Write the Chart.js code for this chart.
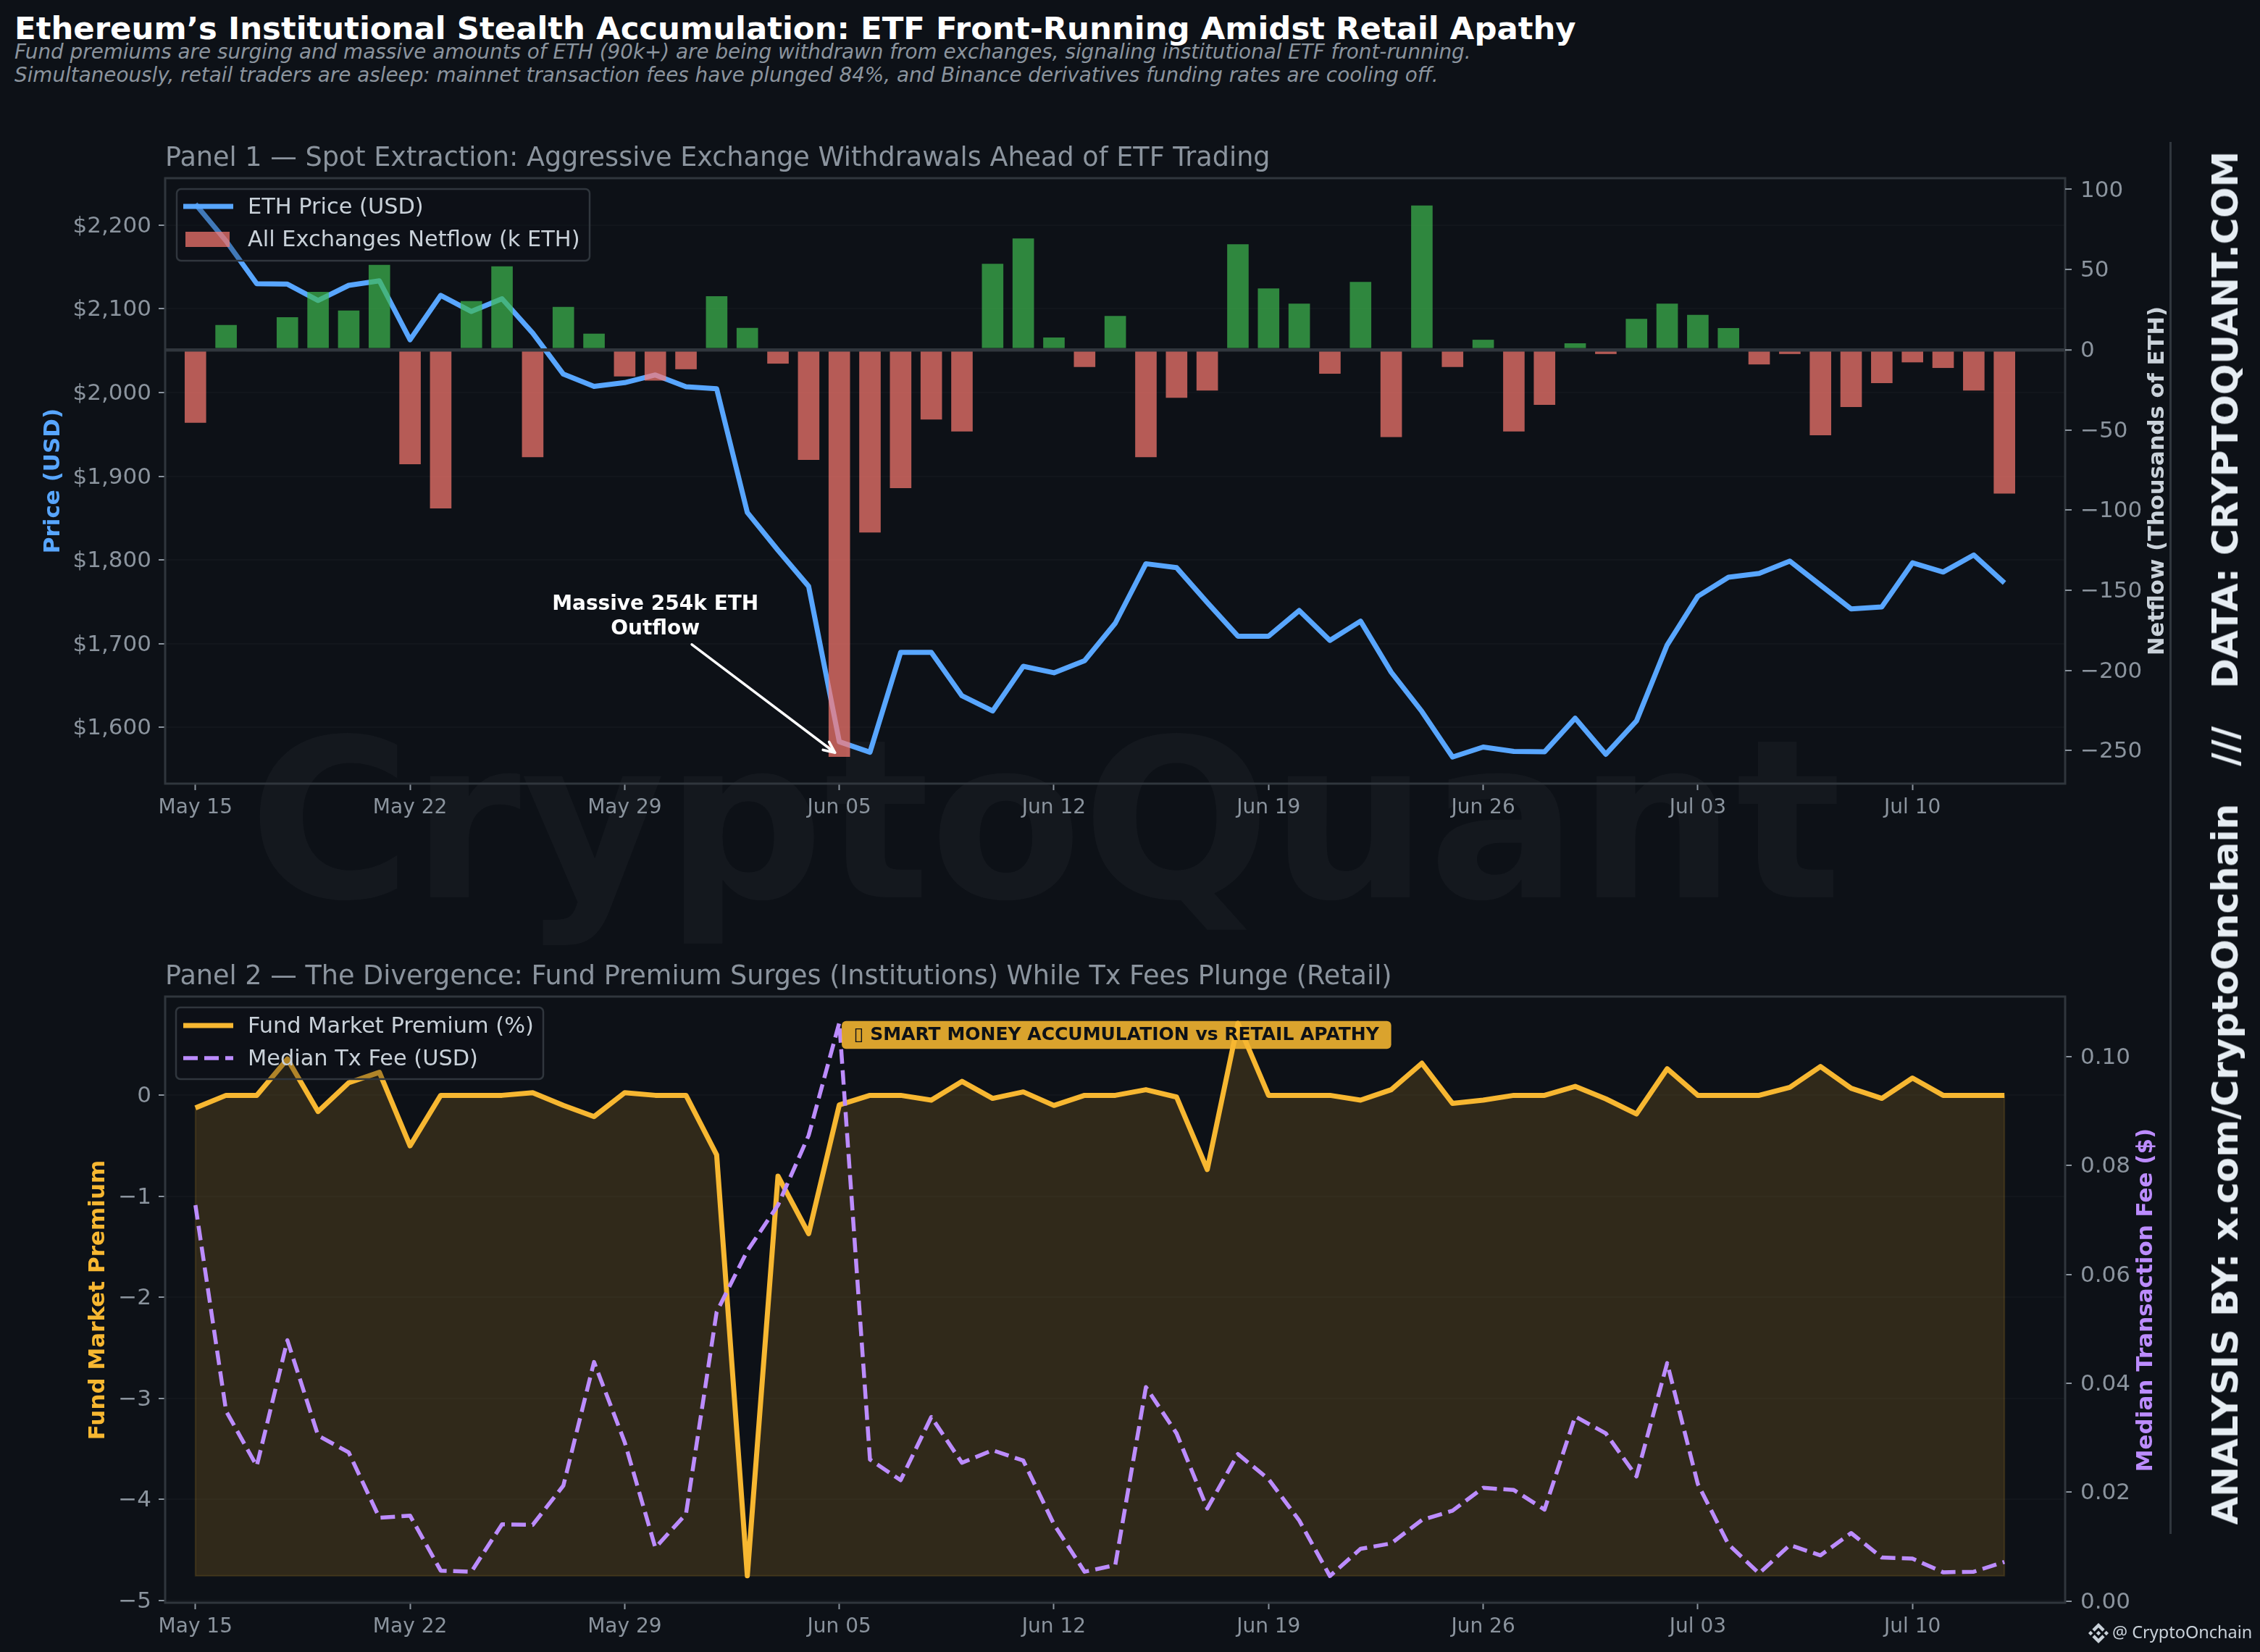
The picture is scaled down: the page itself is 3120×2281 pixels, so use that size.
<!DOCTYPE html>
<html><head><meta charset="utf-8">
<script src="https://cdn.jsdelivr.net/npm/chart.js@4"></script>
<style>
html,body{margin:0;padding:0;background:#0d1117;}
#page{position:relative;width:3120px;height:2281px;overflow:hidden;background:#0d1117;font-family:'DejaVu Sans';}
canvas{position:absolute;left:0;}
.t{position:absolute;white-space:pre;line-height:1;}
</style></head><body>
<div id="page">
<div class="t" id="wm" style="left:1443px;top:1133px;transform:translate(-50%,-50%);font-weight:700;font-size:306px;color:rgba(255,255,255,0.032);">CryptoQuant</div>
<div class="t" style="left:20px;top:18px;font-weight:700;font-size:43.4px;color:#ffffff;">Ethereum’s Institutional Stealth Accumulation: ETF Front-Running Amidst Retail Apathy</div>
<div class="t" style="left:20px;top:58px;font-style:italic;font-size:27.8px;color:#8b949e;">Fund premiums are surging and massive amounts of ETH (90k+) are being withdrawn from exchanges, signaling institutional ETF front-running.</div>
<div class="t" style="left:20px;top:90px;font-style:italic;font-size:27.8px;color:#8b949e;">Simultaneously, retail traders are asleep: mainnet transaction fees have plunged 84%, and Binance derivatives funding rates are cooling off.</div>
<canvas id="c1" width="3120" height="1160" style="top:0;width:3120px;height:1160px"></canvas>
<canvas id="c2" width="3120" height="981" style="top:1300px;width:3120px;height:981px"></canvas>
<div style="position:absolute;left:2995px;top:196px;width:3px;height:1922px;background:#30363d;"></div>
<div class="t" style="left:3072px;top:1157px;transform:translate(-50%,-50%) rotate(-90deg);font-weight:700;font-size:50px;color:#e6edf3;">ANALYSIS BY: x.com/CryptoOnchain   ///   DATA: CRYPTOQUANT.COM</div>
<svg style="position:absolute;left:2883px;top:2241px;width:28px;height:28px" viewBox="0 0 126.61 126.61" fill="#c9d1d9"><path d="M38.73 53.2l24.59-24.58 24.6 24.6 14.3-14.31L63.32 0 24.43 38.9l14.3 14.3z"/><path d="M0 63.31l14.3-14.31 14.31 14.31-14.31 14.3z"/><path d="M38.73 73.41l24.59 24.59 24.6-24.6 14.31 14.29-38.9 38.91-38.91-38.88-.02-.02 14.33-14.29z"/><path d="M98 63.31l14.3-14.3 14.31 14.3-14.31 14.3z"/><path d="M77.83 63.3L63.32 48.78 52.59 59.51l-1.24 1.23-2.54 2.54 14.51 14.5 14.51-14.47z"/></svg>
<div class="t" style="left:2916px;top:2242px;font-family:'Noto Sans';font-size:23.5px;color:#c9d1d9;">@ CryptoOnchain</div>
</div>
<script>
const dates=['May 15','May 16','May 17','May 18','May 19','May 20','May 21','May 22','May 23','May 24','May 25','May 26','May 27','May 28','May 29','May 30','May 31','Jun 01','Jun 02','Jun 03','Jun 04','Jun 05','Jun 06','Jun 07','Jun 08','Jun 09','Jun 10','Jun 11','Jun 12','Jun 13','Jun 14','Jun 15','Jun 16','Jun 17','Jun 18','Jun 19','Jun 20','Jun 21','Jun 22','Jun 23','Jun 24','Jun 25','Jun 26','Jun 27','Jun 28','Jun 29','Jun 30','Jul 01','Jul 02','Jul 03','Jul 04','Jul 05','Jul 06','Jul 07','Jul 08','Jul 09','Jul 10','Jul 11','Jul 12','Jul 13'];
const xTickIdx=[0,7,14,21,28,35,42,49,56];
const ethPrice=[2225,2181,2130,2129.4,2110,2128,2133.4,2063,2116,2096.8,2112,2071,2022,2007.4,2011.8,2021,2006.8,2004.5,1856.7,1811.6,1768.5,1583,1570.4,1689.7,1689.7,1637.8,1619.7,1673,1665.3,1679.8,1724.5,1795.5,1790.8,1749.3,1709,1709,1739.6,1704,1727,1666,1619,1564.7,1576.6,1571.4,1570.9,1611,1568,1607.8,1698.5,1756.6,1779.4,1784,1798.6,1770,1741.5,1744,1796.6,1785.6,1806,1772.6];
const netflow=[-45.6,15.4,-1,20.3,36.1,24.4,52.9,-71.5,-99,30.3,52,-67,26.7,10,-16.7,-19.3,-12.2,33.4,13.6,-8.7,-68.8,-254,-114,-86.4,-43.6,-51,53.6,69.4,7.6,-10.8,21.1,-67,-30,-25.5,65.8,38.2,28.7,-15,42.3,-54.5,90,-10.8,6.2,-51,-34.4,4,-2.7,19.2,28.7,21.7,13.5,-9.2,-2.7,-53.4,-35.8,-20.9,-7.9,-11.4,-25.5,-89.7];
const fundPremium=[-0.125,0,0,0.36,-0.16,0.125,0.228,-0.5,0,0,0,0.026,-0.1,-0.21,0.026,0,0,-0.59,-4.757,-0.8,-1.37,-0.095,0,0,-0.047,0.138,-0.03,0.034,-0.1,0,0,0.056,-0.017,-0.735,0.713,0,0,0,-0.047,0.056,0.318,-0.08,-0.048,0,0,0.088,-0.035,-0.184,0.263,0,0,0,0.079,0.285,0.07,-0.03,0.171,0,0,0];
const medianFee=[0.0727,0.0349,0.0248,0.0479,0.0304,0.0273,0.0153,0.0157,0.0056,0.0054,0.0141,0.014,0.0212,0.0439,0.0292,0.0098,0.016,0.0531,0.0643,0.0727,0.0855,0.1062,0.026,0.0222,0.0338,0.0254,0.0277,0.0258,0.0141,0.0054,0.0066,0.0393,0.0308,0.017,0.027,0.0224,0.0148,0.0046,0.0096,0.0106,0.0149,0.0166,0.0208,0.0204,0.0168,0.0339,0.0308,0.0229,0.0437,0.0215,0.0104,0.0051,0.0103,0.0084,0.0125,0.008,0.0078,0.0053,0.0054,0.0072];
const priceTicks=[1600,1700,1800,1900,2000,2100,2200];
const flowTicks=[-250,-200,-150,-100,-50,0,50,100];
const fundTicks=[-5,-4,-3,-2,-1,0];
const feeTicks=[0,0.02,0.04,0.06,0.08,0.1];

const FONT="'DejaVu Sans'";
const SPINE='#30363d', TICK='#8b949e', BLUE='#58a6ff', AMBER='#f7b731', PURPLE='#bc8cff';
const GREEN_BAR='rgba(63,185,80,0.7)', RED_BAR='rgba(255,123,114,0.7)';
const GRID='rgba(48,54,61,0.15)';
const XY=a=>a.map((v,i)=>({x:i,y:v}));
const minus=s=>String(s).replace('-','\u2212');
const usd=v=>'$'+Number(v).toLocaleString('en-US');

function xScale(){return{type:'linear',min:-0.987,max:60.98,offset:false,
  afterFit(s){s.height=s.chart.canvas.id==='c1'?78:68;},
  afterBuildTicks(s){s.ticks=xTickIdx.map(v=>({value:v}));},
  border:{display:false},
  grid:{offset:false,drawOnChartArea:false,tickLength:9,tickWidth:2,tickColor:TICK,color:'transparent'},
  ticks:{autoSkip:false,maxRotation:0,padding:8,color:TICK,font:{family:FONT,size:28},callback:v=>dates[v]}};}
function yScale(side,min,max,ticks,fmt,grid){return{type:'linear',position:side,min,max,
  afterFit(s){s.width=side==='left'?228:269;},
  afterBuildTicks(s){s.ticks=ticks.map(v=>({value:v}));},
  border:{display:false},grid,
  ticks:{autoSkip:false,padding:side==='left'?10:12,labelOffset:2,color:TICK,font:{family:FONT,size:31},callback:fmt}};}
const leftGrid=()=>({color:GRID,lineWidth:2,tickLength:9,tickWidth:2,tickColor:TICK});

function vText(ctx,text,x,y,font,color){ctx.save();ctx.translate(x,y);ctx.rotate(-Math.PI/2);ctx.font=font;ctx.fillStyle=color;ctx.textAlign='center';ctx.textBaseline='middle';ctx.fillText(text,0,0);ctx.restore();}
function spines(chart){const a=chart.chartArea,c=chart.ctx;c.save();c.strokeStyle=SPINE;c.lineWidth=3;c.strokeRect(a.left,a.top,a.right-a.left,a.bottom-a.top);c.restore();}
function legendBox(c,box,items){
  c.save();c.beginPath();c.roundRect(box.l,box.t,box.r-box.l,box.b-box.t,6);
  c.fillStyle='rgba(13,17,23,0.3)';c.fill();c.strokeStyle=SPINE;c.lineWidth=2.5;c.stroke();
  c.font='30.4px '+FONT;c.textBaseline='middle';c.textAlign='left';
  for(const it of items){
    if(it.kind==='bar'){c.fillStyle=it.color;c.fillRect(256,it.y-10,61,21);}
    else{c.strokeStyle=it.color;c.lineWidth=it.w;c.setLineDash(it.dash||[]);c.beginPath();c.moveTo(253,it.y);c.lineTo(322,it.y);c.stroke();c.setLineDash([]);}
    c.fillStyle='#c9d1d9';c.fillText(it.text,342,it.y+2);
  }
  c.restore();
}

const panel1={id:'panel1',afterDatasetsDraw(chart){
  const c=chart.ctx,x=chart.scales.x,f=chart.scales.y1;
  spines(chart);
  legendBox(c,{l:244,t:261,r:814,b:360},[{kind:'line',color:BLUE,w:7,y:285,text:'ETH Price (USD)'},{kind:'bar',color:RED_BAR,y:330,text:'All Exchanges Netflow (k ETH)'}]);
  c.save();
  c.font='700 28px '+FONT;c.fillStyle='#ffffff';c.textAlign='center';c.textBaseline='middle';
  c.fillText('Massive 254k ETH',x.getPixelForValue(15),f.getPixelForValue(-159.2));
  c.fillText('Outflow',x.getPixelForValue(15),f.getPixelForValue(-174.4));
  const tx=x.getPixelForValue(16.19),ty=f.getPixelForValue(-183.9),hx=x.getPixelForValue(20.86),hy=f.getPixelForValue(-251.4);
  const an=Math.atan2(hy-ty,hx-tx);
  c.strokeStyle='#ffffff';c.lineWidth=3.6;c.lineCap='round';c.lineJoin='round';
  c.beginPath();c.moveTo(tx,ty);c.lineTo(hx,hy);
  c.moveTo(hx-17*Math.cos(an-0.42),hy-17*Math.sin(an-0.42));c.lineTo(hx,hy);c.lineTo(hx-17*Math.cos(an+0.42),hy-17*Math.sin(an+0.42));c.stroke();
  c.restore();
  vText(c,'Price (USD)',74,664,'700 31px '+FONT,BLUE);
  vText(c,'Netflow (Thousands of ETH)',2979,664,'700 30.7px '+FONT,'#c9d1d9');
}};

const panel2={id:'panel2',beforeDatasetsDraw(chart){
  const c=chart.ctx,x=chart.scales.x,y=chart.scales.y;
  const l=x.getPixelForValue(0),r=x.getPixelForValue(59),b=y.getPixelForValue(Math.min(...fundPremium));
  c.save();c.strokeStyle='rgba(247,183,49,0.15)';c.lineWidth=2;c.beginPath();
  c.moveTo(l,y.getPixelForValue(fundPremium[0]));c.lineTo(l,b);c.lineTo(r,b);c.lineTo(r,y.getPixelForValue(fundPremium[59]));c.stroke();c.restore();
},afterDatasetsDraw(chart){
  const c=chart.ctx,x=chart.scales.x,fee=chart.scales.y1;
  spines(chart);
  legendBox(c,{l:243,t:91,r:750,b:190},[{kind:'line',color:AMBER,w:7,y:116,text:'Fund Market Premium (%)'},{kind:'line',color:PURPLE,w:5.5,dash:[20,9],y:161,text:'Median Tx Fee (USD)'}]);
  const L=x.getPixelForValue(21.08),R=x.getPixelForValue(39),T=fee.getPixelForValue(0.1065),B=fee.getPixelForValue(0.1014);
  c.save();c.beginPath();c.roundRect(L,T,R-L,B-T,6);c.fillStyle='rgba(247,183,49,0.88)';c.fill();
  c.font='700 25px '+FONT;c.fillStyle='#0d1117';c.textAlign='center';c.textBaseline='middle';
  c.fillText('\u25AF SMART MONEY ACCUMULATION vs RETAIL APATHY',(L+R)/2,(T+B)/2);c.restore();
  vText(c,'Fund Market Premium',136,495,'700 31px '+FONT,AMBER);
  vText(c,'Median Transaction Fee ($)',2963,495,'700 31px '+FONT,PURPLE);
}};

new Chart(document.getElementById('c1'),{type:'bar',
  data:{datasets:[
    {type:'line',label:'ETH Price (USD)',data:XY(ethPrice),yAxisID:'y',borderColor:BLUE,borderWidth:7,pointRadius:0,tension:0,order:2,borderJoinStyle:'round',borderCapStyle:'butt'},
    {type:'bar',label:'All Exchanges Netflow (k ETH)',data:XY(netflow),yAxisID:'y1',backgroundColor:netflow.map(v=>v>=0?GREEN_BAR:RED_BAR),barPercentage:0.7,categoryPercentage:1,order:1}
  ]},
  options:{responsive:false,animation:false,devicePixelRatio:1,
    layout:{padding:{left:0,right:0,top:197.08,bottom:0}},
    plugins:{legend:{display:false},tooltip:{enabled:false},
      title:{display:true,text:'Panel 1 — Spot Extraction: Aggressive Exchange Withdrawals Ahead of ETF Trading',align:'start',fullSize:false,color:TICK,font:{family:FONT,size:36.6,weight:'normal',lineHeight:1.2},padding:{top:0,bottom:5}}},
    scales:{x:xScale(),
      y:yScale('left',1532.9,2256,priceTicks,usd,leftGrid()),
      y1:yScale('right',-270.7,107,flowTicks,minus,{z:1,color:c=>c.tick&&c.tick.value===0?SPINE:'transparent',lineWidth:c=>c.tick&&c.tick.value===0?4.5:0,tickLength:9,tickWidth:2,tickColor:TICK})}
  },plugins:[panel1]});

new Chart(document.getElementById('c2'),{type:'line',
  data:{datasets:[
    {label:'Fund Market Premium (%)',data:XY(fundPremium),yAxisID:'y',borderColor:AMBER,borderWidth:7,pointRadius:0,tension:0,order:2,fill:{value:Math.min(...fundPremium)},backgroundColor:'rgba(247,183,49,0.15)',borderJoinStyle:'round'},
    {label:'Median Tx Fee (USD)',data:XY(medianFee),yAxisID:'y1',borderColor:PURPLE,borderWidth:5.5,borderDash:[20,9],pointRadius:0,tension:0,order:1,borderJoinStyle:'round'}
  ]},
  options:{responsive:false,animation:false,devicePixelRatio:1,
    layout:{padding:{left:0,right:0,top:27.08,bottom:0}},
    plugins:{legend:{display:false},tooltip:{enabled:false},
      title:{display:true,text:'Panel 2 — The Divergence: Fund Premium Surges (Institutions) While Tx Fees Plunge (Retail)',align:'start',fullSize:false,color:TICK,font:{family:FONT,size:36.6,weight:'normal',lineHeight:1.2},padding:{top:0,bottom:5}}},
    scales:{x:xScale(),
      y:yScale('left',-5.024,0.978,fundTicks,minus,leftGrid()),
      y1:yScale('right',-0.0003,0.111,feeTicks,v=>Number(v).toFixed(2),{color:'transparent',lineWidth:0,tickLength:9,tickWidth:2,tickColor:TICK})}
  },plugins:[panel2]});
</script>
</body></html>
